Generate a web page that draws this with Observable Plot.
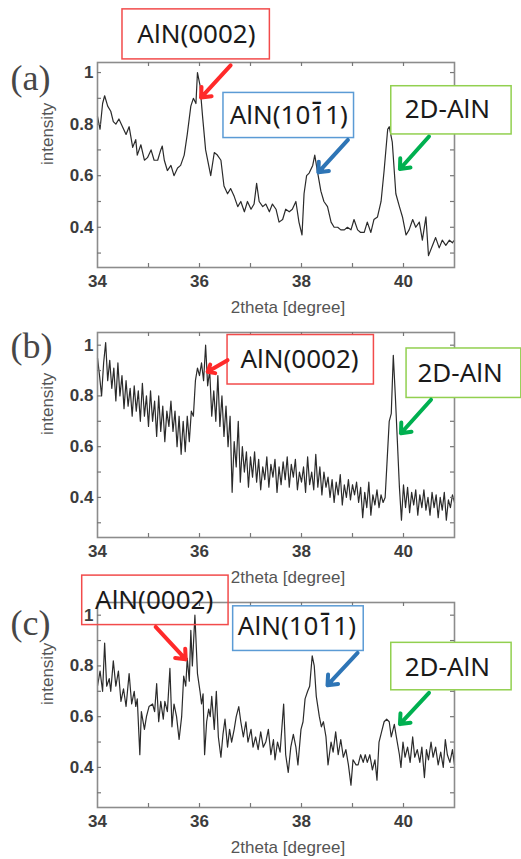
<!DOCTYPE html>
<html><head><meta charset="utf-8">
<script src="https://cdn.jsdelivr.net/npm/d3@7"></script>
<script src="https://cdn.jsdelivr.net/npm/@observablehq/plot@0.6"></script>
<style>
body{margin:0;background:#fff;}
#wrap{position:relative;width:521px;height:859px;overflow:hidden;background:#fff;}
#wrap svg{position:absolute;left:0;}
</style></head><body><div id="wrap"></div>
<script>
// ---------- axis ticks ----------
const xTickLabels = [34, 36, 38, 40];
const xTickMarks = [35, 36, 37, 38, 39, 40];
const yTickLabels = [0.4, 0.6, 0.8, 1];
const yTickMarks = [0.3, 0.4, 0.5, 0.6, 0.7, 0.8, 0.9, 1.0];
const xLabel = "2theta [degree]";
const yLabel = "intensity";

// ---------- panel (a) ----------
const aTheta = [34.00,34.05,34.10,34.14,34.20,34.26,34.31,34.36,34.42,34.49,34.56,34.62,34.69,34.75,34.78,34.85,34.92,34.98,35.05,35.11,35.18,35.24,35.27,35.31,35.37,35.44,35.50,35.57,35.63,35.70,35.76,35.83,35.88,35.93,35.96,36.01,36.06,36.12,36.19,36.22,36.29,36.35,36.42,36.48,36.55,36.61,36.68,36.75,36.81,36.88,36.94,37.01,37.07,37.12,37.17,37.24,37.30,37.37,37.43,37.50,37.56,37.63,37.69,37.76,37.82,37.89,37.95,38.01,38.05,38.10,38.15,38.22,38.26,38.31,38.38,38.44,38.51,38.58,38.64,38.71,38.77,38.84,38.90,38.97,39.03,39.10,39.16,39.23,39.29,39.36,39.42,39.49,39.56,39.62,39.69,39.72,39.78,39.85,39.92,39.98,40.05,40.11,40.18,40.24,40.31,40.37,40.44,40.49,40.57,40.63,40.70,40.76,40.83,40.90,40.96,41.00];
const aIntensity = [0.83,0.78,0.88,0.91,0.87,0.85,0.81,0.80,0.82,0.79,0.76,0.79,0.71,0.74,0.68,0.72,0.66,0.67,0.70,0.66,0.66,0.70,0.715,0.66,0.62,0.64,0.60,0.63,0.64,0.68,0.76,0.87,0.90,0.88,1.00,0.95,0.83,0.70,0.63,0.60,0.69,0.68,0.66,0.56,0.53,0.55,0.52,0.48,0.50,0.46,0.50,0.47,0.49,0.57,0.50,0.48,0.49,0.46,0.49,0.47,0.42,0.43,0.47,0.46,0.47,0.50,0.42,0.37,0.53,0.60,0.61,0.64,0.68,0.62,0.54,0.50,0.48,0.42,0.40,0.40,0.39,0.39,0.40,0.39,0.43,0.39,0.38,0.38,0.42,0.38,0.43,0.44,0.50,0.62,0.78,0.79,0.73,0.53,0.48,0.44,0.37,0.39,0.43,0.40,0.42,0.35,0.44,0.29,0.33,0.36,0.32,0.35,0.33,0.35,0.34,0.35];

// ---------- panel (b) (scan step 0.04 deg from 34) ----------
const bStart = 34, bStep = 0.04;
const bIntensity = [0.95,0.88,0.80,0.93,1.01,0.86,0.94,0.83,
0.91,0.78,0.93,0.80,0.88,0.75,0.86,0.76,
0.83,0.72,0.84,0.74,0.82,0.70,0.85,0.72,0.80,
0.68,0.82,0.70,0.78,0.64,0.80,0.66,0.76,0.62,0.74,0.68,0.78,0.66,
0.74,0.60,0.72,0.57,0.70,0.58,0.72,0.62,0.74,0.72,
0.86,0.91,0.88,0.93,0.86,1.0,0.84,0.90,0.72,0.82,0.70,0.88,0.68,0.80,0.64,0.76,0.60,0.72,0.42,0.62,0.52,0.70,0.46,0.60,0.50,0.58,0.44,0.56,
0.48,0.58,0.46,0.55,0.43,0.52,0.47,0.56,0.44,0.53,0.48,0.55,0.42,0.52,0.45,0.54,0.47,0.56,0.44,0.53,0.48,0.55,0.43,0.50,0.46,
0.52,0.42,0.56,0.45,0.50,0.43,0.57,0.44,0.52,0.41,0.50,0.44,0.48,
0.40,0.47,0.38,0.46,0.41,0.49,0.37,0.45,0.40,0.47,0.39,0.45,0.41,0.46,0.38,0.44,0.32,
0.42,0.36,0.46,0.33,0.41,0.37,0.43,0.36,0.41,0.38,0.40,
0.55,0.70,0.73,0.96,0.80,0.62,0.44,0.31,0.45,
0.36,0.44,0.34,0.42,0.37,0.43,0.33,0.41,0.36,0.43,0.35,0.40,0.33,0.42,0.36,0.41,0.32,0.40,0.35,0.42,0.31,0.39,0.36,0.41,0.38];
const bTheta = bIntensity.map((_, i) => +(bStart + i * bStep).toFixed(2));

// ---------- panel (c) ----------
const cTheta = [34.00,34.05,34.10,34.14,34.18,34.23,34.26,34.31,34.36,34.41,34.46,34.51,34.56,34.62,34.67,34.72,34.75,34.78,34.83,34.86,34.92,34.96,35.01,35.08,35.12,35.16,35.20,35.24,35.29,35.32,35.37,35.42,35.46,35.50,35.55,35.60,35.65,35.69,35.73,35.76,35.80,35.83,35.86,35.91,35.96,36.01,36.04,36.07,36.10,36.14,36.18,36.21,36.24,36.29,36.33,36.37,36.42,36.46,36.50,36.55,36.59,36.63,36.68,36.72,36.77,36.81,36.86,36.91,36.95,37.01,37.05,37.10,37.15,37.20,37.25,37.30,37.35,37.40,37.45,37.48,37.53,37.58,37.65,37.69,37.74,37.79,37.84,37.89,37.93,37.99,38.03,38.07,38.12,38.16,38.21,38.25,38.29,38.35,38.39,38.43,38.48,38.52,38.58,38.62,38.67,38.72,38.77,38.82,38.87,38.92,38.97,39.01,39.07,39.11,39.16,39.21,39.25,39.29,39.34,39.39,39.44,39.48,39.52,39.57,39.62,39.67,39.72,39.76,39.82,39.86,39.92,39.95,39.99,40.03,40.08,40.13,40.18,40.22,40.27,40.32,40.36,40.41,40.45,40.49,40.54,40.58,40.63,40.68,40.73,40.78,40.82,40.86,40.91,40.96,41.00];
const cIntensity = [0.72,0.78,0.70,0.89,0.72,0.75,0.70,0.82,0.72,0.78,0.66,0.71,0.64,0.77,0.65,0.70,0.64,0.67,0.45,0.62,0.55,0.60,0.64,0.65,0.62,0.73,0.58,0.66,0.59,0.66,0.62,0.79,0.56,0.65,0.60,0.51,0.60,0.76,0.72,0.83,0.74,0.94,0.80,1.00,0.77,0.70,0.65,0.69,0.45,0.58,0.63,0.60,0.68,0.55,0.70,0.52,0.44,0.53,0.59,0.48,0.55,0.50,0.55,0.60,0.64,0.58,0.52,0.58,0.50,0.55,0.48,0.52,0.47,0.54,0.48,0.50,0.55,0.45,0.51,0.43,0.50,0.46,0.65,0.45,0.38,0.48,0.53,0.48,0.41,0.55,0.58,0.67,0.70,0.72,0.84,0.80,0.68,0.60,0.56,0.58,0.52,0.41,0.50,0.46,0.54,0.45,0.51,0.44,0.47,0.41,0.33,0.43,0.41,0.41,0.45,0.42,0.45,0.42,0.45,0.39,0.43,0.35,0.50,0.54,0.58,0.59,0.58,0.52,0.57,0.52,0.45,0.40,0.50,0.44,0.48,0.42,0.52,0.44,0.47,0.42,0.48,0.36,0.47,0.43,0.50,0.44,0.48,0.41,0.46,0.40,0.51,0.45,0.42,0.47,0.41];

// ---------- annotations (data coordinates) ----------
const peak0002 = "AlN(0002)";
const peak1011 = "AlN(1011)";   // the "1" after "0" carries an overbar (Miller-Bravais index 1 0 -1 1)
const peak2D = "2D-AlN";
const red = "#ff2a2a", blue = "#2e75b6", green = "#00b050";
const redBox = "#f24b4b", blueBox = "#5b9bd5", greenBox = "#92d050";

const aBoxes = [
  {label: peak0002, x1: 34.49, x2: 37.38, y1: 1.051, y2: 1.245, tx: 35.94, ty: 1.148, stroke: redBox, fill: "white"},
  {label: peak1011, x1: 36.47, x2: 39.03, y1: 0.746, y2: 0.921, tx: 37.75, ty: 0.834, stroke: blueBox, fill: "white", bar: true},
  {label: peak2D, x1: 39.76, x2: 42.12, y1: 0.760, y2: 0.947, tx: 40.86, ty: 0.857, stroke: greenBox, fill: "white"}
];
const aArrows = [
  {x1: 36.61, y1: 1.028, x2: 36.03, y2: 0.903, color: red},
  {x1: 38.91, y1: 0.739, x2: 38.33, y2: 0.613, color: blue},
  {x1: 40.50, y1: 0.752, x2: 39.93, y2: 0.626, color: green}
];
const bBoxes = [
  {label: peak0002, x1: 36.55, x2: 39.42, y1: 0.845, y2: 1.040, tx: 37.96, ty: 0.941, stroke: redBox, fill: "white"},
  {label: peak2D, x1: 40.06, x2: 42.31, y1: 0.792, y2: 0.987, tx: 41.11, ty: 0.888, stroke: greenBox, fill: "white"}
];
const bArrows = [
  {x1: 36.55, y1: 0.941, x2: 36.16, y2: 0.895, color: red},
  {x1: 40.54, y1: 0.785, x2: 39.95, y2: 0.653, color: green}
];
const cBoxes = [
  {label: peak0002, x1: 33.70, x2: 36.57, y1: 0.961, y2: 1.156, tx: 35.11, ty: 1.059, stroke: redBox, fill: "none"},
  {label: peak1011, x1: 36.66, x2: 39.22, y1: 0.859, y2: 1.035, tx: 37.91, ty: 0.954, stroke: blueBox, fill: "white", bar: true},
  {label: peak2D, x1: 39.76, x2: 42.12, y1: 0.704, y2: 0.891, tx: 40.86, ty: 0.793, stroke: greenBox, fill: "white"}
];
const cArrows = [
  {x1: 35.14, y1: 0.954, x2: 35.73, y2: 0.826, color: red},
  {x1: 39.10, y1: 0.851, x2: 38.51, y2: 0.724, color: blue},
  {x1: 40.50, y1: 0.694, x2: 39.93, y2: 0.571, color: green}
];

// ---------- layout ----------
const W = 521, ML = 97, MR = 67, INNER_H = 205;
const INNER_W = W - ML - MR;

function panel({top, height, marginTop, yDomain, theta, intensity, tag, tagDy, boxes, arrows}) {
  const rows = theta.map((t, i) => ({t, v: intensity[i]}));
  const svg = Plot.plot({
    width: W, height,
    marginLeft: ML, marginRight: MR, marginTop, marginBottom: height - marginTop - INNER_H,
    x: {domain: [34, 41]},
    y: {domain: yDomain},
    color: {type: "identity"},
    style: {background: "none", overflow: "visible", fontFamily: "'Liberation Sans', Arial, sans-serif"},
    marks: [
      Plot.line(rows, {x: "t", y: "v", stroke: "#2b2b2b", strokeWidth: 1.2}),
      Plot.frame({stroke: "#8c8c8c", strokeWidth: 1.6}),
      Plot.tickY(yTickMarks, {insetRight: INNER_W - 4, stroke: "#777", strokeWidth: 1.2}),
      Plot.tickY(yTickMarks, {insetLeft: INNER_W - 4, stroke: "#777", strokeWidth: 1.2}),
      Plot.tickX(xTickMarks, {insetTop: INNER_H - 4, stroke: "#777", strokeWidth: 1.2}),
      Plot.tickX(xTickMarks, {insetBottom: INNER_H - 4, stroke: "#777", strokeWidth: 1.2}),
      Plot.axisX(xTickLabels, {tickSize: 0, tickPadding: 7, fontSize: 17, fontWeight: "bold", fill: "#3c3c3c", label: null, tickFormat: d => String(d)}),
      Plot.axisY(yTickLabels, {tickSize: 0, tickPadding: 4, fontSize: 17, fontWeight: "bold", fill: "#3c3c3c", label: null, tickFormat: d => String(d)}),
      Plot.text([xLabel], {frameAnchor: "bottom", lineAnchor: "middle", dx: 12, dy: 40, fontSize: 17, fill: "#555"}),
      Plot.text([yLabel], {frameAnchor: "left", lineAnchor: "middle", dx: -50, rotate: -90, fontSize: 17, fill: "#555"}),
      Plot.text([tag], {frameAnchor: "top-left", lineAnchor: "middle", dx: -87, dy: tagDy, textAnchor: "start", fontSize: 36, fontFamily: "'Liberation Serif', 'Times New Roman', serif", fill: "#474747"}),
      Plot.rect(boxes, {x1: "x1", x2: "x2", y1: "y1", y2: "y2", fill: "fill", stroke: "stroke", strokeWidth: 1.5}),
      Plot.text(boxes, {x: "tx", y: "ty", text: "label", fontSize: 26, fontFamily: "'Noto Sans', 'Open Sans', sans-serif", fill: "#1a1a1a"}),
      // overbar on the third index digit
      Plot.text(boxes.filter(d => d.bar), {x: "tx", y: "ty", text: () => "\u2013", dx: 28, dy: -14, fontSize: 20, fontWeight: "bold", fontFamily: "'Noto Sans', sans-serif", fill: "#1a1a1a"}),
      Plot.arrow(arrows, {x1: "x1", y1: "y1", x2: "x2", y2: "y2", stroke: "color", strokeWidth: 4, headLength: 4, headAngle: 80})
    ]
  });
  svg.style.top = top + "px";
  document.getElementById("wrap").appendChild(svg);
}

panel({top: 0, height: 320, marginTop: 62, yDomain: [0.244, 1.039], theta: aTheta, intensity: aIntensity, tag: "(a)", tagDy: 16, boxes: aBoxes, arrows: aArrows});
panel({top: 290, height: 299, marginTop: 42, yDomain: [0.242, 1.05], theta: bTheta, intensity: bIntensity, tag: "(b)", tagDy: 14, boxes: bBoxes, arrows: bArrows});
panel({top: 560, height: 299, marginTop: 42, yDomain: [0.242, 1.05], theta: cTheta, intensity: cIntensity, tag: "(c)", tagDy: 21, boxes: cBoxes, arrows: cArrows});
</script>
</body></html>
